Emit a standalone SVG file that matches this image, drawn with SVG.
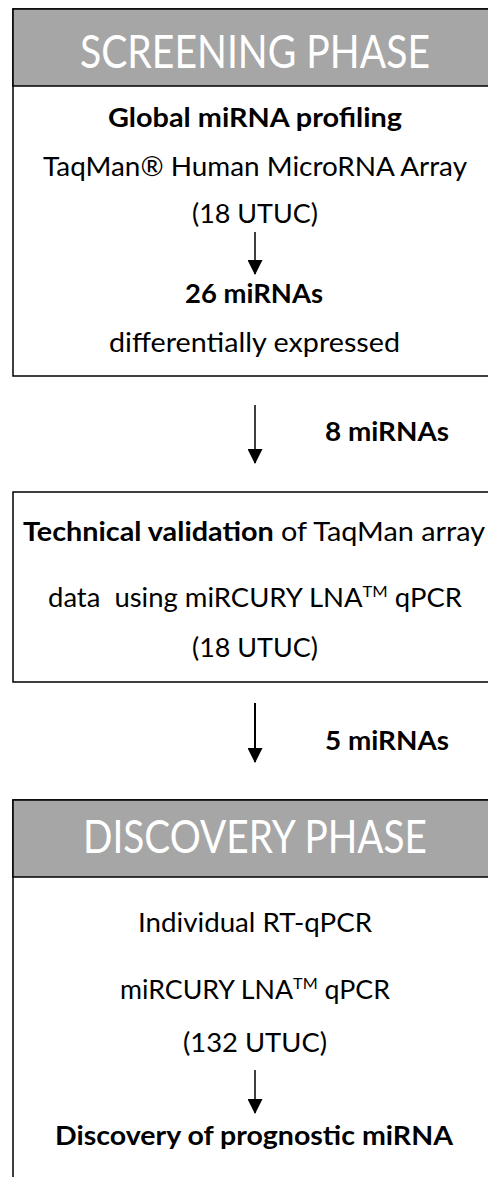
<svg xmlns="http://www.w3.org/2000/svg" width="488" height="1177" viewBox="0 0 488 1177">
<style>
.box{fill:#fff;stroke:#000;stroke-width:1.5}
.hdr{fill:#a6a6a6;stroke:#000;stroke-width:1.5}
.ht{font-family:Lato,"Open Sans",sans-serif;font-size:46px;fill:#fff;text-anchor:middle}
.t{font-family:Lato,"Open Sans",sans-serif;font-size:26.5px;fill:#000;text-anchor:middle}
.b{font-weight:bold}
.sup{font-size:16px}
.conn line{stroke:#000;stroke-width:1.5}
</style>
<defs>
<marker id="ah" markerWidth="15" markerHeight="15" refX="14" refY="7.5" orient="auto" markerUnits="userSpaceOnUse" viewBox="0 0 15 15">
<path d="M0,0 L15,7.5 L0,15 Z" fill="#000"/>
</marker>
</defs>
<g id="node-screening">
<rect class="box" x="13" y="9" width="476" height="367"/>
<rect class="hdr" x="13" y="9" width="476" height="77"/>
<text class="ht" x="255" y="68" textLength="350" lengthAdjust="spacingAndGlyphs">SCREENING PHASE</text>
<text class="t b" x="255" y="127" textLength="294" lengthAdjust="spacingAndGlyphs">Global miRNA profiling</text>
<text class="t" x="255" y="176" textLength="424" lengthAdjust="spacingAndGlyphs">TaqMan® Human MicroRNA Array</text>
<text class="t" x="255" y="223" textLength="126" lengthAdjust="spacingAndGlyphs">(18 UTUC)</text>
<text class="t b" x="254" y="303" textLength="138" lengthAdjust="spacingAndGlyphs">26 miRNAs</text>
<text class="t" x="254.5" y="352" textLength="291" lengthAdjust="spacingAndGlyphs">differentially expressed</text>
</g>
<g id="node-technical">
<rect class="box" x="13" y="492" width="476" height="190"/>
<text class="t" x="254" y="541" textLength="462" lengthAdjust="spacingAndGlyphs"><tspan class="b">Technical validation</tspan> of TaqMan array</text>
<text class="t" x="255" y="607" textLength="414" lengthAdjust="spacingAndGlyphs" xml:space="preserve">data  using miRCURY LNA<tspan class="sup" dy="-10">TM</tspan><tspan dy="10"> qPCR</tspan></text>
<text class="t" x="255" y="657" textLength="126" lengthAdjust="spacingAndGlyphs">(18 UTUC)</text>
</g>
<g id="node-discovery">
<rect class="box" x="13" y="800" width="476" height="400"/>
<rect class="hdr" x="13" y="800" width="476" height="77"/>
<text class="ht" x="255" y="853" textLength="344" lengthAdjust="spacingAndGlyphs">DISCOVERY PHASE</text>
<text class="t" x="255" y="932" textLength="234" lengthAdjust="spacingAndGlyphs">Individual RT-qPCR</text>
<text class="t" x="255" y="999" textLength="270" lengthAdjust="spacingAndGlyphs">miRCURY LNA<tspan class="sup" dy="-10">TM</tspan><tspan dy="10"> qPCR</tspan></text>
<text class="t" x="255" y="1052" textLength="144" lengthAdjust="spacingAndGlyphs">(132 UTUC)</text>
<text class="t b" x="254" y="1145" textLength="398" lengthAdjust="spacingAndGlyphs">Discovery of prognostic miRNA</text>
</g>
<g id="labels">
<text class="t b" x="387" y="441" textLength="124" lengthAdjust="spacingAndGlyphs">8 miRNAs</text>
<text class="t b" x="387" y="750" textLength="124" lengthAdjust="spacingAndGlyphs">5 miRNAs</text>
</g>
<g id="connectors" class="conn">
<line x1="255" y1="232" x2="255" y2="274" marker-end="url(#ah)"/>
<line x1="255" y1="405" x2="255" y2="463" marker-end="url(#ah)"/>
<line x1="255" y1="703" x2="255" y2="762" marker-end="url(#ah)" style="stroke-width:2"/>
<line x1="255" y1="1070" x2="255" y2="1113" marker-end="url(#ah)"/>
</g>
</svg>
